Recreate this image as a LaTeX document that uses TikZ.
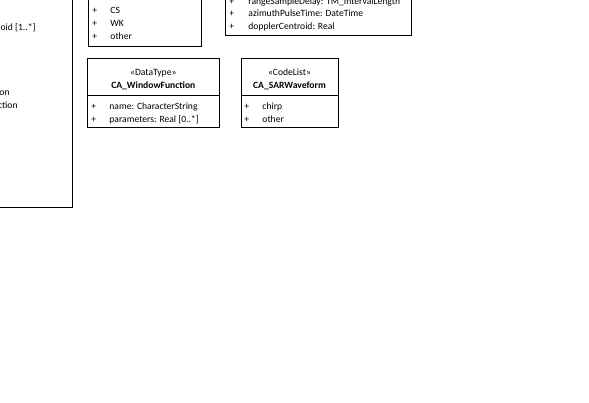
\documentclass[tikz,border=0pt]{standalone}
\usepackage{fontspec}
\setmainfont{Carlito}

\tikzset{
	umltext/.style={inner sep=0pt, font=\fontsize{9.6}{11}\selectfont},
	attr/.style={umltext, anchor=base west},
	head/.style={umltext, anchor=base},
}

\begin{document}
\begin{tikzpicture}[x=1pt, y=-1pt, line width=0.9pt]
		\useasboundingbox (0,0) rectangle (589,402);
		\clip (0,0) rectangle (589,402);
		% left class, mostly outside the view
		\draw (-20,-20) -- (72,-20) -- (72,207) -- (-20,207);
		\node[attr, anchor=base east] (ellipsoid) at (36,30.5) {oid [1..*]};
		\node[attr, anchor=base east] (projection) at (10,95) {on};
		\node[attr, anchor=base east] (function) at (18,108) {ction};
		% enumeration, top part cut off
		\draw (88,-20) rectangle (201,46);
		\foreach \y/\lit [count=\i] in {13/CS, 26/WK, 39/other} {
			\node[attr] (plusA\i) at (92,\y) {+};
			\node[attr] (litA\i) at (110,\y) {\lit};
		}
		% parameters class, top part cut off
		\draw (225,-20) rectangle (411,35);
		\foreach \y/\lit [count=\i] in {4/rangeSampleDelay: TM\_IntervalLength, 16.5/azimuthPulseTime: DateTime, 29/dopplerCentroid: Real} {
			\node[attr] (plusB\i) at (229,\y) {+};
			\node[attr] (attB\i) at (248,\y) {\lit};
		}
		% CA_WindowFunction
		\draw (87.5,58.5) rectangle (219,127);
		\draw (87.5,95) -- (219,95);
		\node[head] (windowStereo) at (153.3,75) {«DataType»};
		\node[head] (windowName) at (153.3,88) {\textbf{CA\_WindowFunction}};
		\node[attr] (plusC1) at (91,109.5) {+};
		\node[attr] (name) at (109,109.5) {name: CharacterString};
		\node[attr] (plusC2) at (91,122.5) {+};
		\node[attr] (parameters) at (109,122.5) {parameters: Real [0..*]};
		% CA_SARWaveform
		\draw (241,58.5) rectangle (338,127);
		\draw (241,95) -- (338,95);
		\node[head] (waveStereo) at (289.5,75) {«CodeList»};
		\node[head] (waveName) at (289.5,88) {\textbf{CA\_SARWaveform}};
		\node[attr] (plusD1) at (244,109.5) {+};
		\node[attr] (chirp) at (262,109.5) {chirp};
		\node[attr] (plusD2) at (244,122.5) {+};
		\node[attr] (other) at (262,122.5) {other};
	\end{tikzpicture}
\end{document}
